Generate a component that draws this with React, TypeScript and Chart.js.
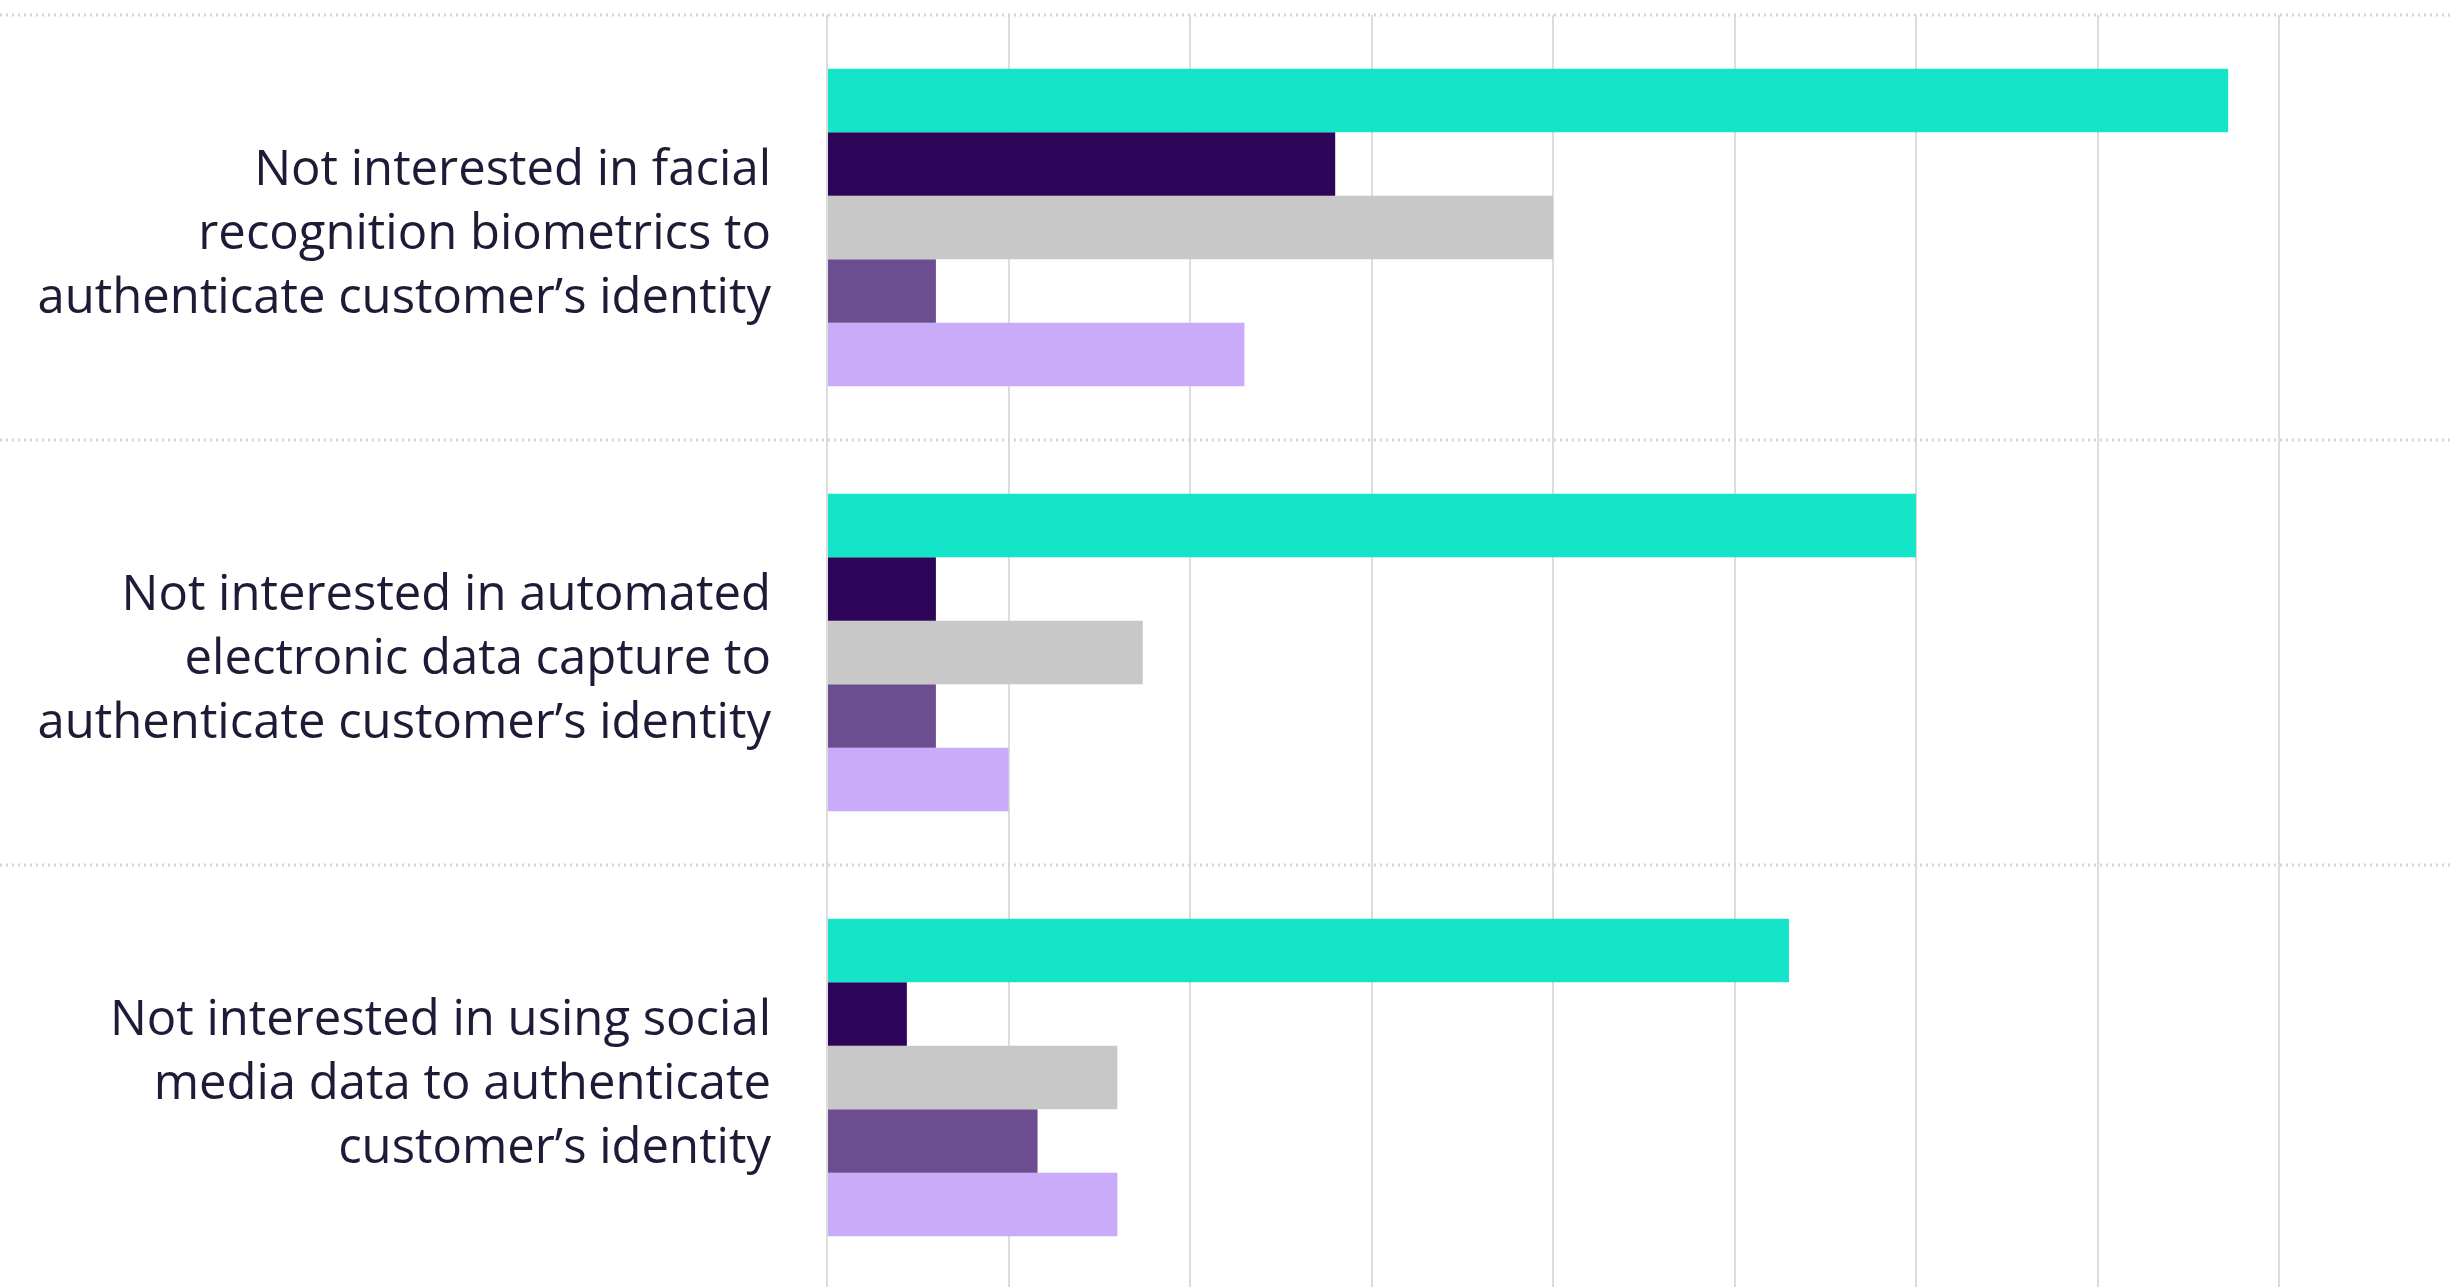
import React, { useEffect, useRef } from "react";
import { Chart, registerables } from "chart.js";

Chart.register(...registerables);

const categories: string[][] = [
  ["Not interested in facial", "recognition biometrics to", "authenticate customer’s identity"],
  ["Not interested in automated", "electronic data capture to", "authenticate customer’s identity"],
  ["Not interested in using social", "media data to authenticate", "customer’s identity"],
];

const seriesNames = ["Series 1", "Series 2", "Series 3", "Series 4", "Series 5"];
const series1 = [38.6, 30.0, 26.5];
const series2 = [14.0, 3.0, 2.2];
const series3 = [20.0, 8.7, 8.0];
const series4 = [3.0, 3.0, 5.8];
const series5 = [11.5, 5.0, 8.0];
const seriesColors = ["#14e5c8", "#2d0558", "#c8c8c8", "#6c4d90", "#c9abfa"];

const xMin = 0;
const xMax = 50;
const xStep = 5;

const separatorPlugin = {
  id: "separators",
  beforeDatasetsDraw(chart: any) {
    const y = chart.scales.y;
    const ctx = chart.ctx;
    ctx.save();
    ctx.strokeStyle = "#d4d4d4";
    ctx.lineWidth = 3;
    ctx.setLineDash([2, 4]);
    for (let i = 0; i <= categories.length; i++) {
      const py = Math.round(y.getPixelForValue(i - 0.5));
      ctx.beginPath();
      ctx.moveTo(0, py);
      ctx.lineTo(chart.width, py);
      ctx.stroke();
    }
    ctx.restore();
  },
};

export default function App() {
  const ref = useRef<HTMLCanvasElement | null>(null);

  useEffect(() => {
    if (!ref.current) return;
    const all = [series1, series2, series3, series4, series5];
    const chart = new Chart(ref.current, {
      type: "bar",
      data: {
        labels: categories as any,
        datasets: all.map((d, i) => ({
          label: seriesNames[i],
          data: d,
          backgroundColor: seriesColors[i],
          borderWidth: 0,
          barPercentage: 1,
          categoryPercentage: 0.747,
        })),
      },
      options: {
        indexAxis: "y",
        animation: false,
        responsive: true,
        maintainAspectRatio: false,
        layout: { padding: { top: 15, right: 3, bottom: 0, left: 0 } },
        plugins: {
          legend: { display: false },
          tooltip: { enabled: false },
        },
        scales: {
          x: {
            min: xMin,
            max: xMax,
            ticks: { display: false, stepSize: xStep },
            grid: { color: "#dcdcdc", lineWidth: 2, drawTicks: false },
            border: { display: false },
            afterFit: (s: any) => {
              s.height = 0;
              s.paddingLeft = 0;
              s.paddingRight = 0;
            },
          },
          y: {
            grid: { display: false, drawTicks: false },
            border: { display: false },
            ticks: {
              color: "#1f1a36",
              padding: 56,
              labelOffset: 8,
              font: { family: "'Open Sans'", size: 49, lineHeight: 1.306 },
            },
            afterFit: (s: any) => {
              s.width = 827;
              s.paddingTop = 0;
              s.paddingBottom = 0;
            },
          },
        },
      },
      plugins: [separatorPlugin],
    });
    return () => chart.destroy();
  }, []);

  return (
    <div
      style={{
        position: "fixed",
        top: 0,
        left: 0,
        width: 2453,
        height: 1287,
        overflow: "hidden",
        background: "#ffffff",
      }}
    >
      <div style={{ position: "relative", width: 2645, height: 1290 }}>
        <canvas ref={ref} />
      </div>
    </div>
  );
}
